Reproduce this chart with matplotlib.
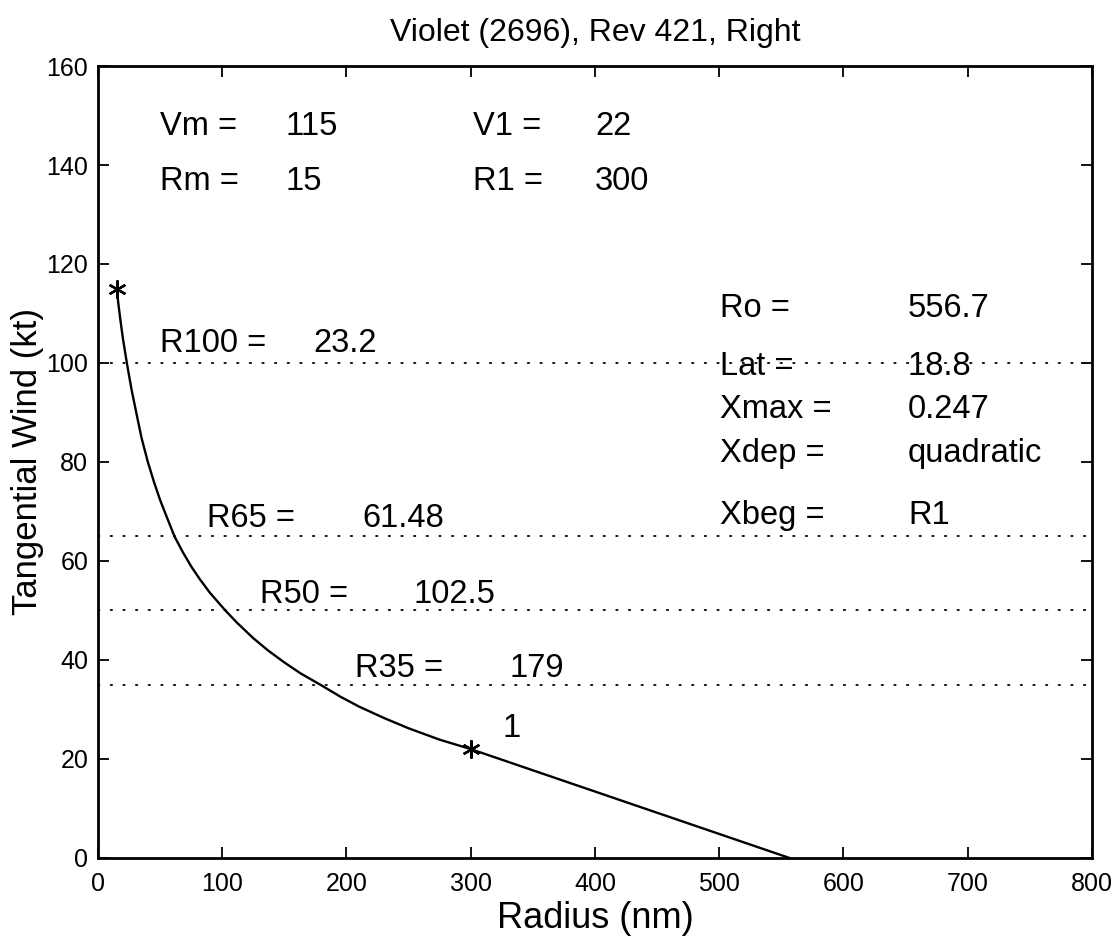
import matplotlib
matplotlib.use("Agg")
import matplotlib.pyplot as plt

plt.rcParams['font.family'] = ['Liberation Sans', 'DejaVu Sans']

# ---- data ----
radius = [15, 16.5, 18, 20, 23.2, 27, 32, 35, 40, 45, 50, 55, 61.48, 68, 75, 82, 90,
          102.5, 112, 125, 137, 150, 163, 179, 195, 210, 230, 250, 275, 300, 556.7]
wind = [115, 111.7, 108.7, 105.0, 100, 94.6, 88.5, 84.9, 80.1, 76.0, 72.3, 69.1, 65,
        61.9, 58.9, 56.3, 53.6, 50, 47.5, 44.4, 41.9, 39.5, 37.3, 35, 32.6, 30.6,
        28.3, 26.2, 23.9, 22, 0]
marker_r = [15, 300]
marker_v = [115, 22]
ref_levels = [100, 65, 50, 35]

xticks = [0, 100, 200, 300, 400, 500, 600, 700, 800]
yticks = [0, 20, 40, 60, 80, 100, 120, 140, 160]

# annotations: (x, y, label, value, value_x)
top_notes = [(50, 146, "Vm =", "115", 151), (50, 135, "Rm =", "15", 151),
             (302, 146, "V1 =", "22", 400), (302, 135, "R1 =", "300", 400)]
radius_notes = [(50, 102.2, "R100 =", "23.2", 173), (88, 66.9, "R65 =", "61.48", 213),
                (130, 51.5, "R50 =", "102.5", 254), (207, 36.6, "R35 =", "179", 331)]
right_notes = [(501, 109.3, "Ro =", "556.7"), (501, 97.6, "Lat =", "18.8"),
               (501, 88.9, "Xmax =", "0.247"), (501, 80.0, "Xdep =", "quadratic"),
               (501, 67.4, "Xbeg =", "R1")]
right_value_x = 652

fig = plt.figure(figsize=(11.14, 9.39), dpi=100)
ax = fig.add_axes([0.088, 0.0863, 0.892, 0.8434])

for lev in ref_levels:
    ax.plot([0, 800], [lev, lev], color='black', lw=1.3,
            linestyle=(0, (0.8, 6.2)), dash_capstyle='round')

ax.plot(radius, wind, color='black', lw=1.7)
ax.plot(marker_r, marker_v, linestyle='none', marker=(6, 2, 0),
        markersize=13, markeredgewidth=1.7, color='black')

ax.set_xlim(0, 800)
ax.set_ylim(0, 160)
ax.set_xticks(xticks)
ax.set_yticks(yticks)
ax.tick_params(direction='in', length=8, width=1.3, top=True, right=True,
               labelsize=18, pad=7)
ax.tick_params(axis='x', pad=10)
for s in ax.spines.values():
    s.set_linewidth(2.0)

ax.set_title("Violet (2696), Rev 421, Right", fontsize=23, pad=18)
ax.set_xlabel("Radius (nm)", fontsize=26, labelpad=4)
ax.set_ylabel("Tangential Wind (kt)", fontsize=25, labelpad=2)

fs = 23.5
for x, y, lab, val, vx in top_notes:
    ax.text(x, y, lab, fontsize=fs, va='baseline', ha='left')
    ax.text(vx, y, val, fontsize=fs, va='baseline', ha='left')
for x, y, lab, val, vx in radius_notes:
    ax.text(x, y, lab, fontsize=fs, va='baseline', ha='left')
    ax.text(vx, y, val, fontsize=fs, va='baseline', ha='left')
for x, y, lab, val in right_notes:
    ax.text(x, y, lab, fontsize=fs, va='baseline', ha='left')
    ax.text(right_value_x, y, val, fontsize=fs, va='baseline', ha='left')

ax.text(326, 24.4, "1", fontsize=fs, va='baseline', ha='left')

fig.savefig("out.png", dpi=100)
